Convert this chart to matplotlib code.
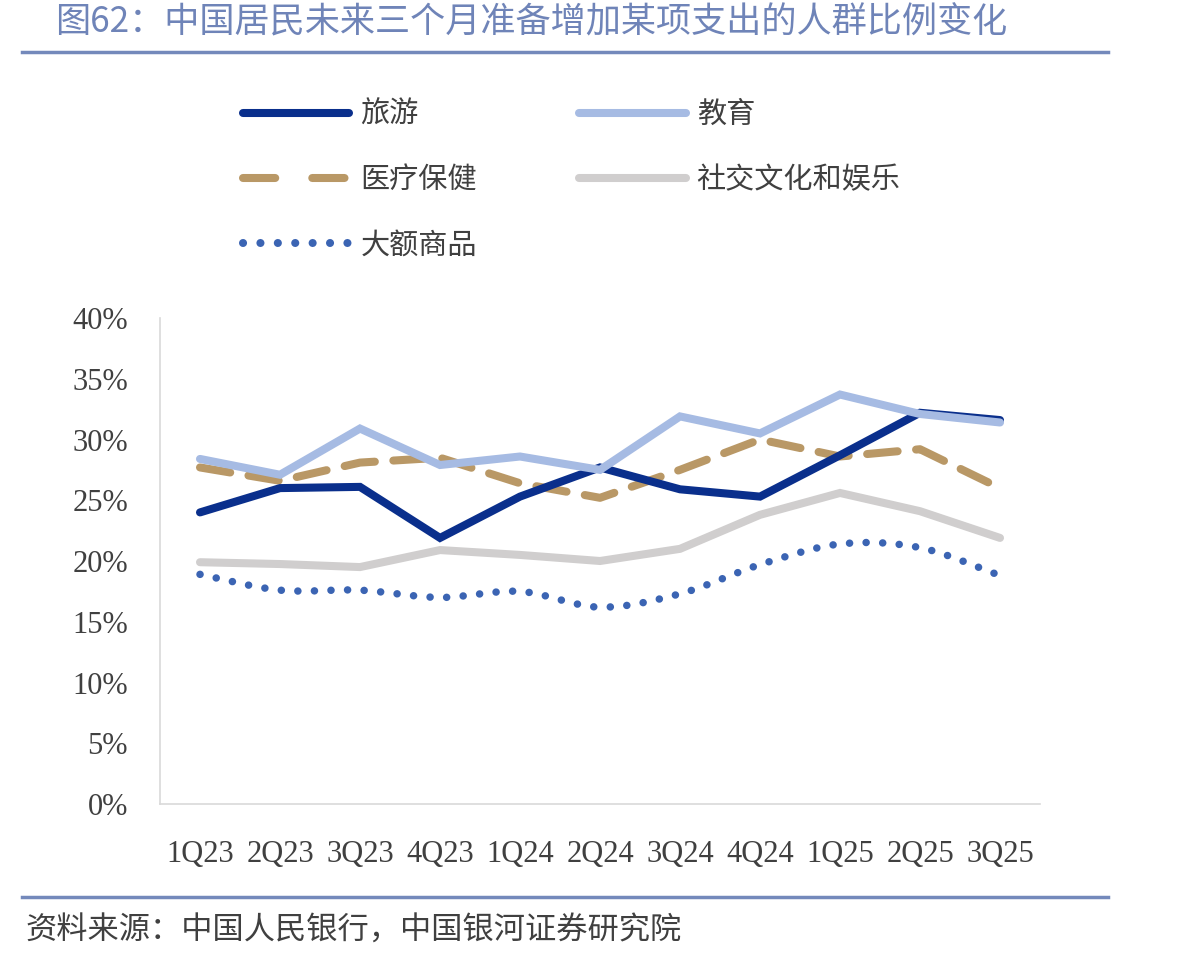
import matplotlib
matplotlib.use("Agg")
import matplotlib.pyplot as plt
from matplotlib.path import Path
from matplotlib.patches import PathPatch
from matplotlib.lines import Line2D
import numpy as np

plt.rcParams['font.family'] = ['Noto Sans CJK SC', 'DejaVu Sans']

quarters = ["1Q23", "2Q23", "3Q23", "4Q23", "1Q24", "2Q24", "3Q24", "4Q24", "1Q25", "2Q25", "3Q25"]
travel = [24.0, 26.0, 26.1, 21.9, 25.3, 27.7, 25.9, 25.3, 28.7, 32.2, 31.6]
education = [28.4, 27.1, 30.9, 27.9, 28.6, 27.5, 31.9, 30.5, 33.7, 32.1, 31.4]
healthcare = [27.7, 26.6, 28.1, 28.5, 26.4, 25.2, 27.5, 30.0, 28.6, 29.2, 26.0]
social = [19.9, 19.75, 19.5, 20.9, 20.5, 20.0, 21.0, 23.8, 25.6, 24.1, 21.9]
bigticket = [18.9, 17.6, 17.6, 17.0, 17.5, 16.2, 17.3, 19.7, 21.4, 21.1, 18.8]
yticks = [0, 5, 10, 15, 20, 25, 30, 35, 40]

labels = ["旅游", "教育", "医疗保健", "社交文化和娱乐", "大额商品"]
colors = ["#0a2f8c", "#a6bbe3", "#b99866", "#d0cece", "#3b64b3"]

W, H = 1177, 963
fig = plt.figure(figsize=(W / 100, H / 100), dpi=100)
ax = fig.add_axes([160 / W, 1 - 804 / H, 880 / W, 486 / H])

x = np.arange(len(quarters))
lw = 5.8
ax.plot(x, social, color=colors[3], lw=lw, solid_capstyle='round', solid_joinstyle='miter', zorder=2)
ax.plot(x, healthcare, color=colors[2], lw=lw, dashes=(3.8, 2.3), dash_capstyle='round', zorder=3)
ax.plot(x, travel, color=colors[0], lw=lw, solid_capstyle='round', solid_joinstyle='miter', zorder=4)
ax.plot(x, education, color=colors[1], lw=lw, solid_capstyle='round', solid_joinstyle='miter', zorder=5)

# smoothed dotted line (Bezier through data points)
yv = np.array(bigticket, dtype=float)
verts = [(x[0], yv[0])]
codes = [Path.MOVETO]
n = len(x)
for i in range(n - 1):
    p0 = (x[max(i - 1, 0)], yv[max(i - 1, 0)])
    p1 = (x[i], yv[i])
    p2 = (x[i + 1], yv[i + 1])
    p3 = (x[min(i + 2, n - 1)], yv[min(i + 2, n - 1)])
    t = 1 / 6
    c1 = (p1[0] + (p2[0] - p0[0]) * t, p1[1] + (p2[1] - p0[1]) * t)
    c2 = (p2[0] - (p3[0] - p1[0]) * t, p2[1] - (p3[1] - p1[1]) * t)
    verts += [c1, c2, p2]
    codes += [Path.CURVE4] * 3
patch = PathPatch(Path(verts, codes), facecolor='none', edgecolor=colors[4], lw=5.4,
                  linestyle=(0, (0.01, 2.2)), capstyle='round', zorder=6)
ax.add_patch(patch)

ax.set_xlim(-0.5, 10.5)
ax.set_ylim(0, 40)
ax.set_xticks(x)
ax.set_xticklabels(quarters)
ax.set_yticks(yticks)
ax.set_yticklabels([f"{v}%" for v in yticks])
for lab in ax.get_xticklabels() + ax.get_yticklabels():
    lab.set_fontfamily('Liberation Serif')
    lab.set_fontsize(22)
    lab.set_color('#404040')
ax.tick_params(axis='both', length=0)
ax.tick_params(axis='y', pad=23)
ax.tick_params(axis='x', pad=26)
for s in ['top', 'right']:
    ax.spines[s].set_visible(False)
for s in ['left', 'bottom']:
    ax.spines[s].set_color('#d9d9d9')
    ax.spines[s].set_linewidth(1.2)

# legend
h_travel = Line2D([], [], color=colors[0], lw=lw, solid_capstyle='round')
h_edu = Line2D([], [], color=colors[1], lw=lw, solid_capstyle='round')
h_health = Line2D([], [], color=colors[2], lw=lw, dashes=(4.0, 4.6), dash_capstyle='round')
h_social = Line2D([], [], color=colors[3], lw=lw, solid_capstyle='round')
h_big = Line2D([], [], color=colors[4], lw=5.8, linestyle=(0, (0.01, 2.15)), dash_capstyle='round')
leg = fig.legend([h_travel, h_health, h_big, h_edu, h_social],
                 [labels[0], labels[2], labels[4], labels[1], labels[3]],
                 ncol=2, loc='upper left', bbox_to_anchor=(243 / W, 1 - 100 / H),
                 frameon=False, fontsize=21, handlelength=3.65, handletextpad=0.38,
                 columnspacing=3.5, labelspacing=1.21, borderpad=0, borderaxespad=0)
for t in leg.get_texts():
    t.set_color('#404040')

# title and rules
fig.text(55 / W, 1 - 22 / H, "图62：中国居民未来三个月准备增加某项支出的人群比例变化",
         fontsize=25.3, color='#6f84b8', va='center', ha='left')
fig.add_artist(Line2D([22 / W, 1108 / W], [1 - 52 / H, 1 - 52 / H], color='#7489bb', lw=2.5))
fig.add_artist(Line2D([22 / W, 1108 / W], [1 - 897 / H, 1 - 897 / H], color='#7489bb', lw=2.5))
fig.text(25 / W, 1 - 931 / H, "资料来源：中国人民银行，中国银河证券研究院",
         fontsize=22.5, color='#404040', va='center', ha='left', style='italic')

fig.savefig("out.png", dpi=100)
